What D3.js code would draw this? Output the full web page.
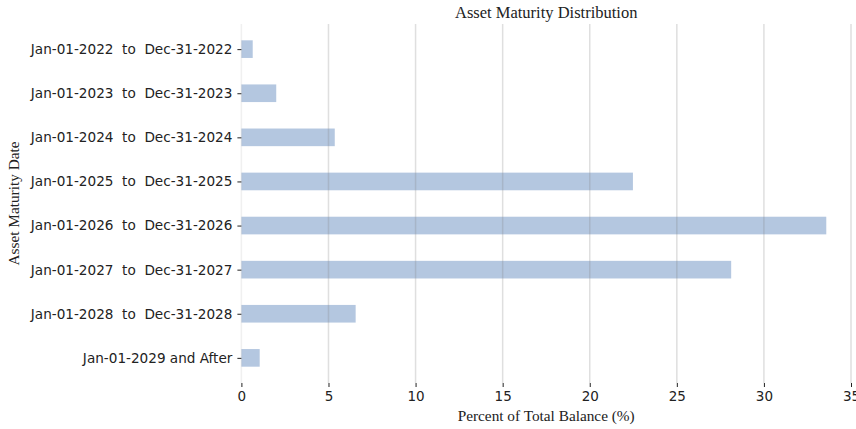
<!DOCTYPE html>
<html>
<head>
<meta charset="utf-8">
<script src="https://cdn.jsdelivr.net/npm/d3@7"></script>
<style>
  body { margin: 0; background: #fff; }
  svg { display: block; overflow: hidden; }
  .tick text { white-space: pre; }
</style>
</head>
<body>
<div id="chart"></div>
<script>
// maturity buckets, top to bottom
var categories = [
    "Jan-01-2022  to  Dec-31-2022",
    "Jan-01-2023  to  Dec-31-2023",
    "Jan-01-2024  to  Dec-31-2024",
    "Jan-01-2025  to  Dec-31-2025",
    "Jan-01-2026  to  Dec-31-2026",
    "Jan-01-2027  to  Dec-31-2027",
    "Jan-01-2028  to  Dec-31-2028",
    "Jan-01-2029 and After"
];
var percents = [0.65, 2.0, 5.36, 22.48, 33.58, 28.12, 6.56, 1.05];
var xTicks = [0, 5, 10, 15, 20, 25, 30, 35];

var W = 856, H = 429;
var plot = {left: 241.4, right: 851, top: 24, bottom: 383};

var svg = d3.select("#chart")
    .append("svg")
    .attr("width", W)
    .attr("height", H);

var xScale = d3.scaleLinear()
    .domain([0, 35])
    .range([plot.left, plot.right]);

// matplotlib-like: bars of height 0.4 with 5% margin
var yScale = d3.scaleLinear()
    .domain([-0.57, 7.57])
    .range([plot.top, plot.bottom]);

var barH = yScale(0.4) - yScale(0);

svg.selectAll(".bar")
    .data(percents)
    .enter().append("rect")
    .attr("class", "bar")
    .attr("x", xScale(0))
    .attr("y", function(d, i) { return yScale(i) - barH / 2 })
    .attr("width", function(d) { return xScale(d) - xScale(0) })
    .attr("height", barH)
    .attr("fill", "#b0c4de")
    .attr("fill-opacity", 0.95);

// grid lines drawn over bars
svg.selectAll(".grid")
    .data(xTicks)
    .enter().append("line")
    .attr("x1", function(d) { return xScale(d) })
    .attr("x2", function(d) { return xScale(d) })
    .attr("y1", plot.top)
    .attr("y2", plot.bottom)
    .attr("stroke", "#808080")
    .attr("stroke-opacity", function(d) { return d === 0 ? 0.12 : 0.25 })
    .attr("stroke-width", 1.5);

var xAxis = svg.append("g")
    .attr("transform", "translate(0," + plot.bottom + ")")
    .call(d3.axisBottom(xScale).tickValues(xTicks).tickSize(4).tickPadding(4));
xAxis.select(".domain").remove();
xAxis.selectAll("text")
    .style("font-family", "'DejaVu Sans', sans-serif")
    .style("font-size", "13.5px")
    .attr("fill", "#222");
xAxis.selectAll("line").attr("stroke", "#222");

var yAxis = svg.append("g")
    .attr("transform", "translate(" + plot.left + ",0)")
    .call(d3.axisLeft(yScale)
        .tickValues(d3.range(categories.length))
        .tickFormat(function(i) { return categories[i] })
        .tickSize(4).tickPadding(5));
yAxis.select(".domain").remove();
yAxis.selectAll("text")
    .style("font-family", "'DejaVu Sans', sans-serif")
    .style("font-size", "13.6px")
    .attr("fill", "#222");
yAxis.selectAll("line").attr("stroke", "#222");

svg.append("text")
    .attr("x", (plot.left + plot.right) / 2)
    .attr("y", 18)
    .attr("text-anchor", "middle")
    .style("font-family", "'Liberation Serif', serif")
    .style("font-size", "16.5px")
    .attr("fill", "#222")
    .text("Asset Maturity Distribution");

svg.append("text")
    .attr("x", (plot.left + plot.right) / 2)
    .attr("y", 421)
    .attr("text-anchor", "middle")
    .style("font-family", "'Liberation Serif', serif")
    .style("font-size", "15.3px")
    .attr("fill", "#222")
    .text("Percent of Total Balance (%)");

svg.append("text")
    .attr("transform", "rotate(-90)")
    .attr("x", -(plot.top + plot.bottom) / 2)
    .attr("y", 19)
    .attr("text-anchor", "middle")
    .style("font-family", "'Liberation Serif', serif")
    .style("font-size", "15.3px")
    .attr("fill", "#222")
    .text("Asset Maturity Date");
</script>
</body>
</html>
